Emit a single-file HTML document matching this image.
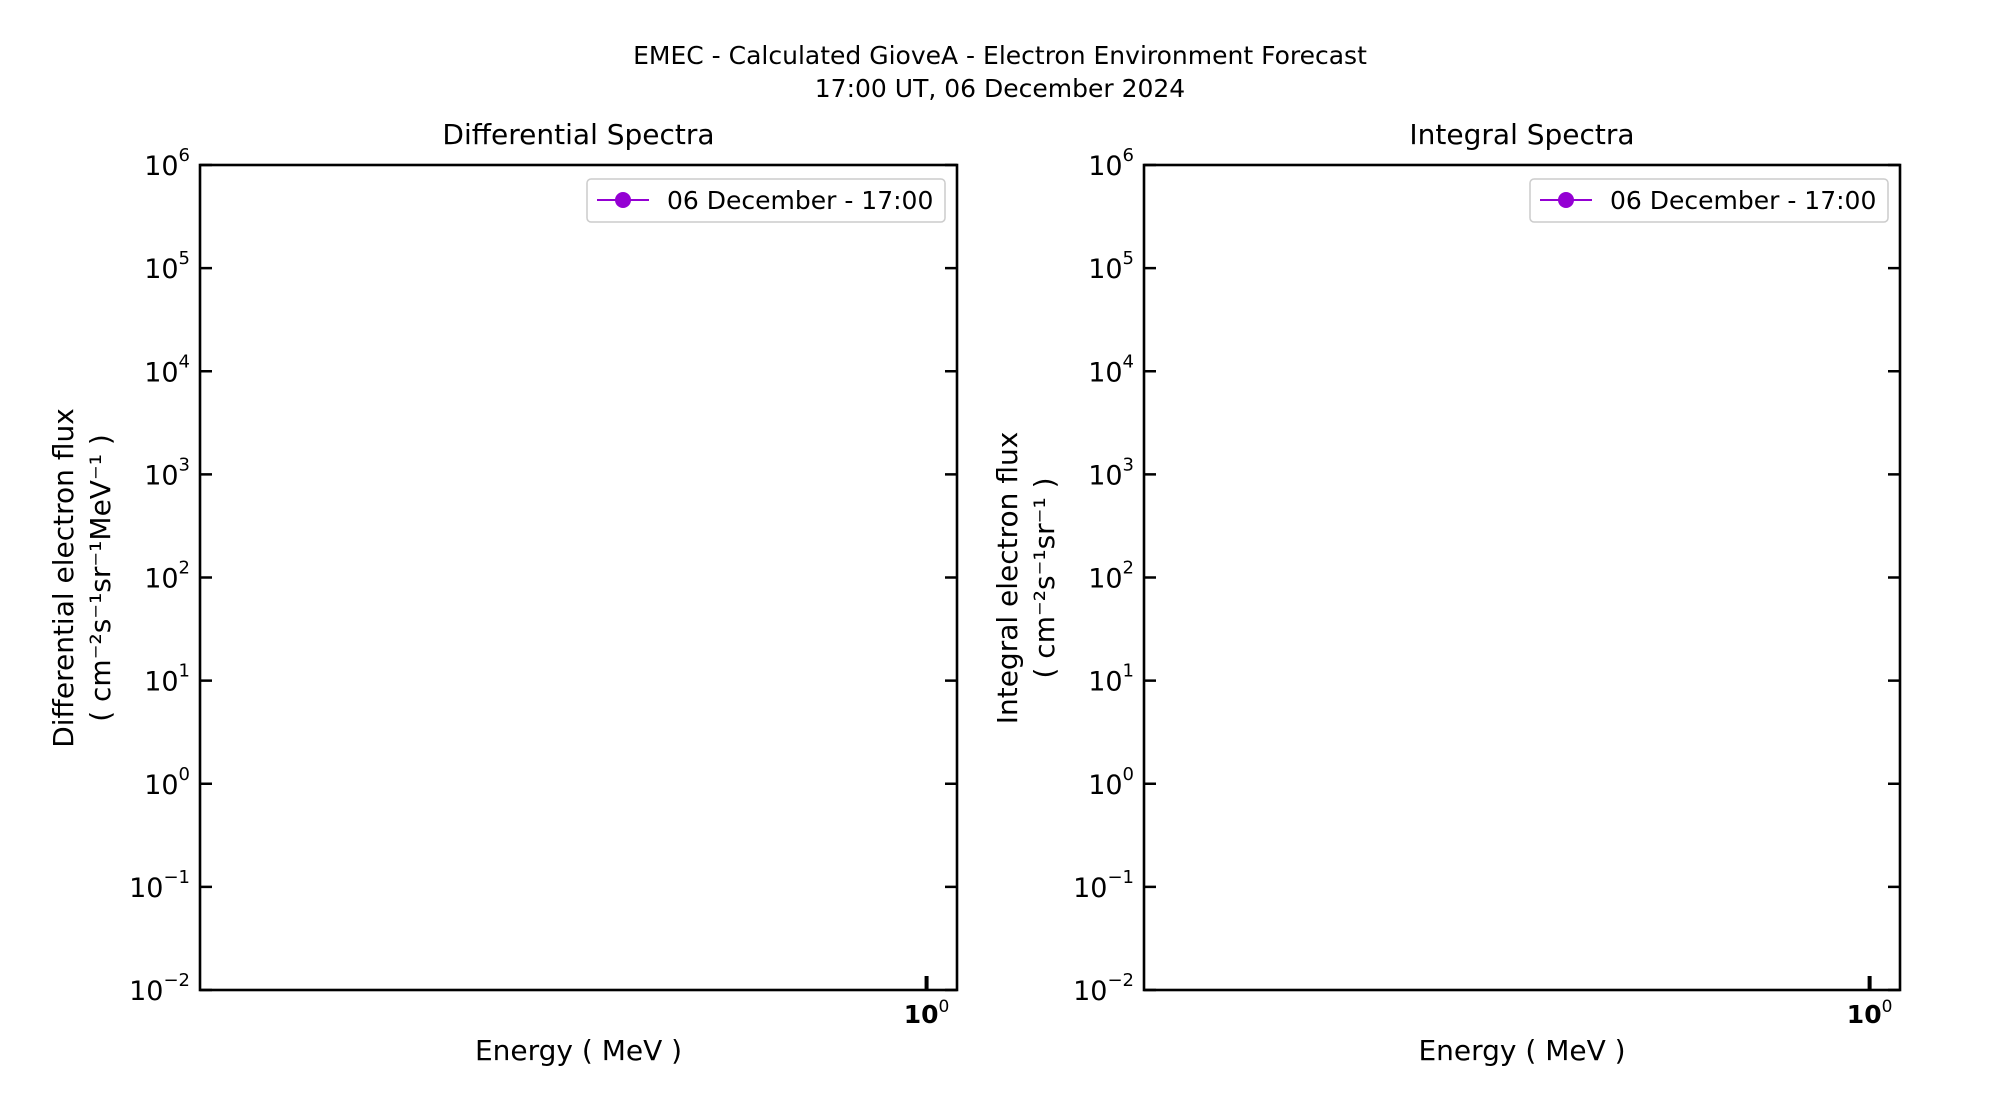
<!DOCTYPE html>
<html><head><meta charset="utf-8"><style>
html,body{margin:0;padding:0;background:#fff;}
svg{display:block;font-family:"DejaVu Sans","Liberation Sans",sans-serif;}
</style></head><body>
<svg id="chart" width="2000" height="1100" viewBox="0 0 2000 1100" xmlns="http://www.w3.org/2000/svg">
<text x="1000" y="64" font-size="25" text-anchor="middle">EMEC - Calculated GioveA - Electron Environment Forecast</text>
<text x="1000" y="97" font-size="25" text-anchor="middle">17:00 UT, 06 December 2024</text>
<g id="panels"></g>
</svg>
<script>
const yExponents = [-2,-1,0,1,2,3,4,5,6];
const xTickValues = [1];
const seriesLabel = "06 December - 17:00";
const diffEnergies = [];
const diffFlux = [];
const intEnergies = [];
const intFlux = [];

const NS = "http://www.w3.org/2000/svg";
const g = document.getElementById('panels');
function mk(tag, attrs, parent){const e=document.createElementNS(NS,tag);for(const k in attrs)e.setAttribute(k,attrs[k]);(parent||g).appendChild(e);return e;}
const top_=165, bot=990;
function yScale(v){const l=Math.log10(v);return bot-(l-(-2))/(8)*(bot-top_);}
const xMinLog=-1.6, xMaxLog=0.067;
const panels=[
 {x0:200,x1:957,title:"Differential Spectra",name:"differential",ylab1:"Differential electron flux",ylab2:"( cm\u207B\u00B2s\u207B\u00B9sr\u207B\u00B9MeV\u207B\u00B9 )",ylx:[73,110],E:diffEnergies,F:diffFlux},
 {x0:1144,x1:1900,title:"Integral Spectra",name:"integral",ylab1:"Integral electron flux",ylab2:"( cm\u207B\u00B2s\u207B\u00B9sr\u207B\u00B9 )",ylx:[1017,1054],E:intEnergies,F:intFlux}
];
panels.forEach(p=>{
 const pg=mk('g',{});
 
 
 const xs=v=>p.x0+(Math.log10(v)-xMinLog)/(xMaxLog-xMinLog)*(p.x1-p.x0);
 const cx=(p.x0+p.x1)/2;
 const t=mk('text',{x:cx,y:144,'font-size':28,'text-anchor':'middle'},pg);t.textContent=p.title;
 
 
 yExponents.forEach(e=>{
  const y=yScale(Math.pow(10,e));
  mk('line',{x1:p.x0,x2:p.x0+12,y1:y,y2:y,stroke:'#000','stroke-width':2.5},pg);
  mk('line',{x1:p.x1-12,x2:p.x1,y1:y,y2:y,stroke:'#000','stroke-width':2.5},pg);
  const tx=mk('text',{x:p.x0-10,y:y+10,'font-size':27,'text-anchor':'end'},pg);
  tx.innerHTML='10<tspan dy="-14" font-size="18">'+(e<0?'\u2212'+(-e):e)+'</tspan>';
  
  
 });
 xTickValues.forEach(v=>{
  const x=xs(v);
  mk('line',{x1:x,x2:x,y1:bot-14,y2:bot,stroke:'#000','stroke-width':4},pg);
  const tx=mk('text',{x:x,y:bot+33,'font-size':25,'font-weight':'bold','text-anchor':'middle'},pg);
  tx.innerHTML='10<tspan dy="-11" font-size="17" font-weight="normal">0</tspan>';
  
  
 });
 mk('rect',{x:p.x0,y:top_,width:p.x1-p.x0,height:bot-top_,fill:'none',stroke:'#000','stroke-width':2.6},pg);
 if(p.E.length){
  const pts=p.E.map((e,i)=>xs(e)+','+yScale(p.F[i])).join(' ');
  mk('polyline',{points:pts,fill:'none',stroke:'#9400d3','stroke-width':2},pg);
  p.E.forEach((e,i)=>mk('circle',{cx:xs(e),cy:yScale(p.F[i]),r:7,fill:'#9400d3'},pg));
 }
 const xl=mk('text',{x:cx,y:1060,'font-size':28,'text-anchor':'middle'},pg);xl.textContent="Energy ( MeV )";
 
 
 const yl=mk('text',{transform:`translate(${p.ylx[0]},578) rotate(-90)`,'font-size':28,'text-anchor':'middle'},pg);yl.textContent=p.ylab1;
 
 
 const yl2=mk('text',{transform:`translate(${p.ylx[1]},578) rotate(-90)`,'font-size':28,'text-anchor':'middle'},pg);yl2.textContent=p.ylab2;
 
 
 const lg=mk('g',{},pg);
 
 
 const lx=p.x1-370;
 mk('rect',{x:lx,y:179,width:358,height:43,rx:4,fill:'#fff',stroke:'#ccc','stroke-width':1.5},lg);
 mk('line',{x1:lx+10,x2:lx+62,y1:200,y2:200,stroke:'#9400d3','stroke-width':2},lg);
 mk('circle',{cx:lx+36,cy:200,r:8,fill:'#9400d3'},lg);
 const lt=mk('text',{x:lx+80,y:209,'font-size':25},lg);lt.textContent=seriesLabel;
 
 
});
</script>
</body></html>
